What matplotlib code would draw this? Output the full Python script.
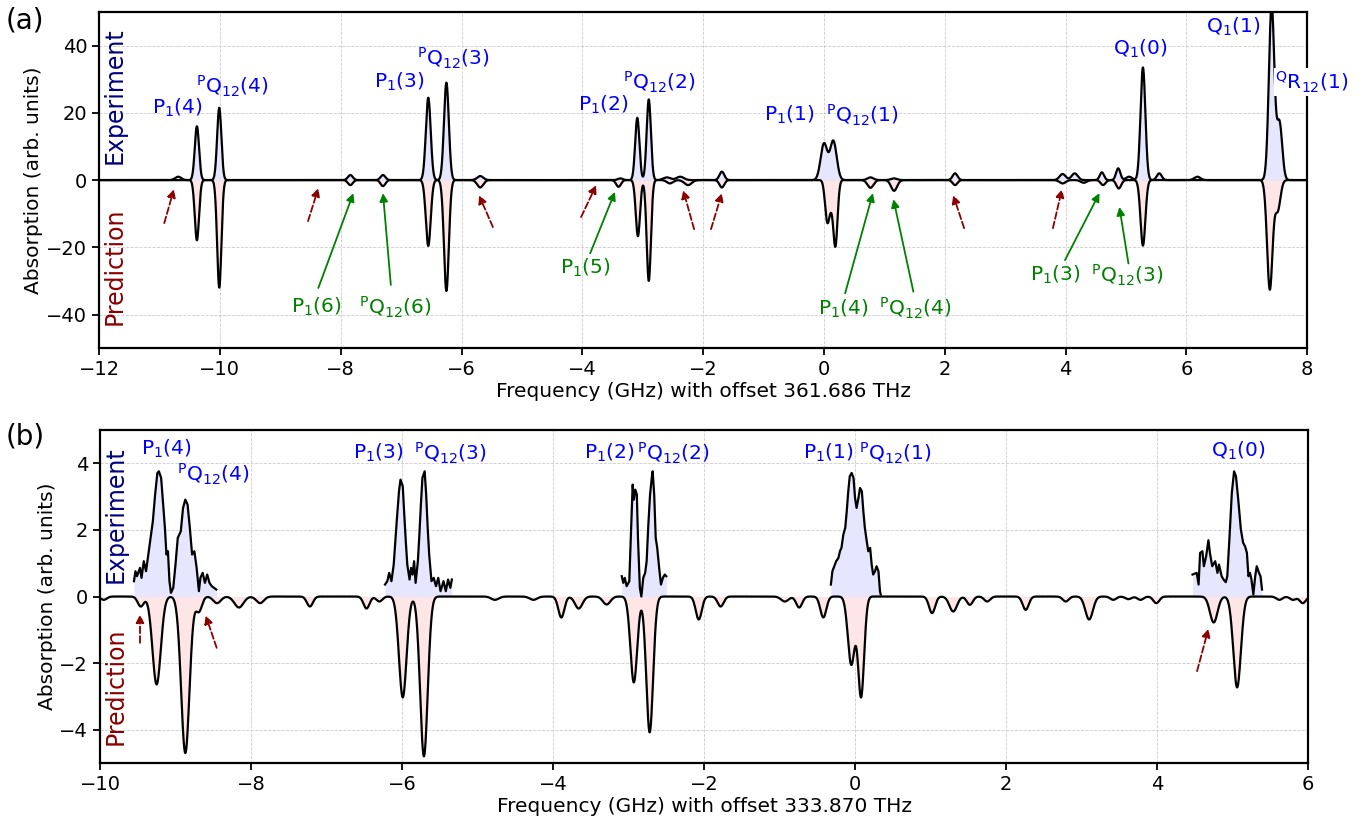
import numpy as np
import matplotlib
matplotlib.use('Agg')
import matplotlib.pyplot as plt
from matplotlib.patches import FancyArrowPatch

plt.rcParams['font.family'] = ['DejaVu Sans']
plt.rcParams['mathtext.default'] = 'regular'

# ---------------- Panel (a): line lists ----------------
exp_a_pos = [-10.69, -10.38, -10.01, -7.84, -7.30, -6.55, -6.25, -5.69, -3.37, -3.09, -2.90,
             -2.60, -2.38, -1.69, 0.00, 0.155, 0.77, 1.16, 2.17, 3.95, 4.15, 4.60, 4.87, 5.05,
             5.28, 5.55, 6.18, 7.41, 7.54]
exp_a_amp = [1.0, 16.0, 21.5, 1.5, 1.5, 24.5, 29.0, 1.2, 0.5, 18.5, 24.0,
             0.8, 1.0, 2.5, 10.8, 11.6, 0.8, 0.5, 2.0, 1.8, 2.0, 2.3, 3.5, 1.0,
             33.5, 2.0, 1.0, 52.0, 17.0]
exp_a_wid = [0.05, 0.035, 0.035, 0.04, 0.04, 0.04, 0.04, 0.05, 0.04, 0.035, 0.035,
             0.06, 0.06, 0.04, 0.055, 0.055, 0.05, 0.05, 0.04, 0.05, 0.05, 0.035, 0.035, 0.05,
             0.04, 0.04, 0.05, 0.045, 0.045]

pred_a_pos = [-10.38, -10.01, -7.84, -7.30, -6.55, -6.25, -5.69, -3.40, -3.08, -2.90,
              -2.55, -2.25, -1.69, 0.05, 0.11, 0.19, 0.77, 1.16, 2.17, 3.95, 4.30, 4.62, 4.88,
              5.28, 7.38, 7.51]
pred_a_amp = [-17.9, -32.0, -1.5, -1.8, -19.6, -33.0, -2.2, -2.0, -16.7, -30.0,
              -1.0, -1.5, -2.2, -10.5, -6.0, -19.0, -2.3, -3.2, -1.5, -1.0, -0.8, -1.5, -2.5,
              -19.5, -32.5, -9.0]
pred_a_wid = [0.035, 0.035, 0.04, 0.04, 0.04, 0.04, 0.05, 0.04, 0.035, 0.035,
              0.05, 0.06, 0.04, 0.035, 0.04, 0.035, 0.05, 0.05, 0.04, 0.05, 0.05, 0.04, 0.04,
              0.04, 0.045, 0.045]

blue_a_txt = ['P$_1$(4)', '$^P$Q$_{12}$(4)', 'P$_1$(3)', '$^P$Q$_{12}$(3)', 'P$_1$(2)',
              '$^P$Q$_{12}$(2)', 'P$_1$(1)', '$^P$Q$_{12}$(1)', 'Q$_1$(0)', 'Q$_1$(1)']
blue_a_x = [-10.71, -9.8, -7.03, -6.14, -3.66, -2.73, -0.58, 0.63, 5.23, 6.77]
blue_a_y = [21.4, 27.8, 29.2, 36.2, 22.3, 29.2, 19.3, 19.3, 39.0, 45.5]

green_a_txt = ['P$_1$(6)', '$^P$Q$_{12}$(6)', 'P$_1$(5)', 'P$_1$(4)', '$^P$Q$_{12}$(4)',
               'P$_1$(3)', '$^P$Q$_{12}$(3)']
green_a_x = [-8.4, -7.1, -3.95, 0.32, 1.51, 3.83, 5.02]
green_a_y = [-37.8, -37.8, -26.2, -38.2, -38.2, -28.3, -28.3]
green_a_tail = [(-8.37, -32.1), (-7.17, -31.2), (-3.87, -21.8), (0.35, -33.7),
                (1.48, -33.2), (3.99, -23.8), (5.04, -24.8)]
green_a_head = [(-7.79, -3.9), (-7.30, -3.9), (-3.46, -3.5), (0.81, -3.9),
                (1.15, -5.7), (4.56, -3.9), (4.89, -8.0)]

red_a_tail = [(-10.92, -12.8), (-8.54, -12.2), (-5.48, -14.0), (-4.02, -11.0),
              (-2.15, -14.6), (-1.87, -14.6), (2.32, -14.3), (3.79, -14.3)]
red_a_head = [(-10.76, -2.7), (-8.37, -2.4), (-5.71, -4.5), (-3.77, -1.5),
              (-2.33, -3.0), (-1.69, -3.9), (2.14, -4.5), (3.94, -2.7)]

# ---------------- Panel (b) ----------------
pred_b_pos = [-9.95, -9.46, -9.25, -8.87, -8.69, -8.45, -8.16, -7.88, -7.22, -6.47, -6.30,
              -5.99, -5.71, -4.77, -4.26, -3.89, -3.66, -3.29, -2.93, -2.72, -2.07, -1.78,
              -0.93, -0.74, -0.42, -0.05, 0.08, 1.02, 1.30, 1.52, 1.75, 2.26, 2.79, 3.10,
              3.42, 3.62, 3.78, 3.99, 4.75, 5.06, 5.62, 5.80, 5.93]
pred_b_amp = [-0.1, -0.3, -2.64, -4.7, -0.45, -0.2, -0.33, -0.2, -0.3, -0.36, -0.15,
              -3.03, -4.8, -0.1, -0.1, -0.63, -0.36, -0.24, -2.58, -4.08, -0.69, -0.3,
              -0.15, -0.33, -0.63, -2.04, -3.0, -0.5, -0.45, -0.25, -0.15, -0.4, -0.15, -0.69,
              -0.1, -0.08, -0.1, -0.2, -0.78, -2.73, -0.1, -0.1, -0.2]
pred_b_wid = [0.04, 0.04, 0.055, 0.055, 0.04, 0.05, 0.06, 0.05, 0.04, 0.04, 0.04,
              0.05, 0.05, 0.05, 0.05, 0.04, 0.05, 0.05, 0.045, 0.045, 0.04, 0.04,
              0.05, 0.04, 0.04, 0.045, 0.04, 0.04, 0.05, 0.04, 0.04, 0.04, 0.04, 0.05,
              0.04, 0.04, 0.04, 0.04, 0.05, 0.05, 0.04, 0.04, 0.04]

exp_b_x1 = [-9.55, -9.53, -9.51, -9.47, -9.45, -9.42, -9.39, -9.36, -9.33, -9.30, -9.27, -9.24,
            -9.22, -9.19, -9.17, -9.14, -9.12, -9.10, -9.08, -9.06, -9.03, -9.00, -8.97, -8.93,
            -8.90, -8.87, -8.84, -8.81, -8.78, -8.75, -8.72, -8.69, -8.67, -8.64, -8.61, -8.58,
            -8.55, -8.52, -8.49, -8.46]
exp_b_y1 = [0.46, 0.76, 0.61, 0.86, 0.56, 1.06, 0.76, 1.26, 1.76, 2.26, 3.06, 3.71,
            3.76, 3.56, 2.96, 2.06, 1.26, 1.36, 0.46, 0.11, 0.26, 0.96, 1.76, 1.96,
            2.66, 2.91, 2.76, 2.06, 1.26, 1.36, 0.86, 0.16, 0.56, 0.71, 0.41, 0.66,
            0.41, 0.31, 0.26, 0.21]
exp_b_x2 = [-6.225, -6.195, -6.17, -6.14, -6.11, -6.07, -6.04, -6.02, -5.99, -5.97, -5.95,
            -5.93, -5.90, -5.88, -5.86, -5.84, -5.82, -5.79, -5.77, -5.75, -5.73, -5.70,
            -5.68, -5.66, -5.64, -5.61, -5.58, -5.55, -5.52, -5.49, -5.45, -5.42, -5.39,
            -5.36, -5.34]
exp_b_y2 = [0.36, 0.46, 0.71, 0.46, 0.96, 2.26, 3.16, 3.51, 3.31, 2.46, 1.66,
            0.96, 0.51, 0.86, 0.66, 1.06, 0.41, 1.06, 1.86, 2.76, 3.56, 3.76,
            3.06, 2.06, 1.26, 0.46, 0.56, 0.31, 0.56, 0.16, 0.46, 0.16, 0.51,
            0.26, 0.51]
exp_b_x3 = [-3.09, -3.07, -3.05, -3.025, -2.99, -2.97, -2.945, -2.93, -2.91, -2.89, -2.875,
            -2.85, -2.83, -2.805, -2.78, -2.76, -2.74, -2.715, -2.69, -2.68, -2.66, -2.64,
            -2.62, -2.59, -2.57, -2.545, -2.52, -2.50]
exp_b_y3 = [0.61, 0.41, 0.56, 0.31, 0.46, 1.76, 3.36, 2.91, 3.21, 3.06, 1.76,
            0.26, 0.0, 0.56, 0.71, 1.06, 2.06, 3.06, 3.61, 3.76, 3.06, 1.76,
            1.46, 0.76, 0.36, 0.56, 0.66, 0.61]
exp_b_x4 = [-0.32, -0.30, -0.275, -0.25, -0.22, -0.20, -0.18, -0.155, -0.13, -0.11, -0.09,
            -0.07, -0.045, -0.02, 0.0, 0.02, 0.045, 0.066, 0.09, 0.11, 0.13, 0.155, 0.175,
            0.20, 0.22, 0.24, 0.265, 0.285, 0.31, 0.33, 0.34]
exp_b_y4 = [0.36, 0.76, 0.91, 1.06, 1.16, 1.36, 1.46, 1.86, 2.06, 2.56, 3.16,
            3.61, 3.71, 3.56, 2.96, 2.66, 2.96, 3.26, 3.16, 2.56, 2.06, 1.66, 1.36,
            1.46, 0.96, 0.66, 0.76, 0.91, 0.76, 0.16, 0.06]
exp_b_x5 = [4.47, 4.525, 4.55, 4.57, 4.60, 4.62, 4.65, 4.68, 4.70, 4.73, 4.77, 4.80, 4.82,
            4.855, 4.88, 4.91, 4.93, 4.96, 4.99, 5.02, 5.045, 5.075, 5.11, 5.14, 5.165,
            5.19, 5.21, 5.23, 5.25, 5.275, 5.30, 5.32, 5.35, 5.37, 5.39]
exp_b_y5 = [0.66, 0.71, 0.36, 1.31, 1.36, 0.91, 1.21, 1.69, 1.31, 0.91, 1.06, 0.71, 0.96,
            0.61, 0.51, 0.43, 0.61, 1.81, 3.11, 3.76, 3.61, 2.91, 2.01, 1.61, 1.51,
            1.31, 0.61, 0.71, 0.51, 0.06, 0.61, 0.91, 0.71, 0.61, 0.21]

blue_b_txt = ['P$_1$(4)', '$^P$Q$_{12}$(4)', 'P$_1$(3)', '$^P$Q$_{12}$(3)', 'P$_1$(2)',
              '$^P$Q$_{12}$(2)', 'P$_1$(1)', '$^P$Q$_{12}$(1)', 'Q$_1$(0)']
blue_b_x = [-9.12, -8.5, -6.31, -5.36, -3.25, -2.41, -0.35, 0.53, 5.08]
blue_b_y = [4.43, 3.66, 4.31, 4.31, 4.31, 4.31, 4.31, 4.31, 4.36]

red_b_tail = [(-9.47, -1.39), (-8.455, -1.54), (4.53, -2.24)]
red_b_head = [(-9.47, -0.54), (-8.60, -0.57), (4.68, -0.97)]


def spectrum(x, pos, amp, wid):
    y = np.zeros_like(x)
    for p, a, w in zip(pos, amp, wid):
        y += a * np.exp(-0.5 * ((x - p) / w) ** 2)
    return y


EXP_FILL = (0.90, 0.90, 1.0)
PRED_FILL = (1.0, 0.90, 0.90)
LBL_FS = 14.5
TICK_FS = 14
AX_FS = 14.5


def style_axes(ax):
    ax.grid(True, ls='--', lw=0.6, color='#cccccc')
    ax.set_axisbelow(True)
    for s in ax.spines.values():
        s.set_linewidth(1.6)
    ax.tick_params(labelsize=TICK_FS, width=1.3, length=5)


def arrow(ax, tail, head, color, ls):
    ax.add_patch(FancyArrowPatch(tail, head, arrowstyle='-|>', mutation_scale=12,
                                 color=color, lw=1.3, ls=ls, shrinkA=0, shrinkB=0, zorder=6))


fig = plt.figure(figsize=(13.66, 8.23), dpi=100)
axa = fig.add_axes([0.0725, 0.577, 0.8845, 0.4084])
axb = fig.add_axes([0.0732, 0.0729, 0.8844, 0.4046])

# ---- panel a ----
xa = np.linspace(-12, 8, 6001)
ea = spectrum(xa, exp_a_pos, exp_a_amp, exp_a_wid)
pa = spectrum(xa, pred_a_pos, pred_a_amp, pred_a_wid)
axa.fill_between(xa, ea, 0, color=EXP_FILL, lw=0, zorder=1)
axa.fill_between(xa, pa, 0, color=PRED_FILL, lw=0, zorder=1)
axa.plot(xa, pa, color='black', lw=1.6, zorder=3)
axa.plot(xa, ea, color='black', lw=1.6, zorder=3)
axa.set_xlim(-12, 8)
axa.set_ylim(-50, 50)
axa.set_xticks(np.arange(-12, 9, 2))
axa.set_yticks([-40, -20, 0, 20, 40])
style_axes(axa)
axa.set_xlabel('Frequency (GHz) with offset 361.686 THz', fontsize=AX_FS, labelpad=2)
axa.set_ylabel('Absorption (arb. units)', fontsize=AX_FS, labelpad=2)

for t, x, y in zip(blue_a_txt, blue_a_x, blue_a_y):
    axa.text(x, y, t, color='blue', fontsize=LBL_FS, ha='center', va='center', zorder=7)
axa.text(8.08, 29.2, '$^Q$R$_{12}$(1)', color='blue', fontsize=LBL_FS, ha='center',
         va='center', zorder=7, clip_on=False,
         bbox=dict(facecolor='white', edgecolor='none', pad=1))
for t, x, y in zip(green_a_txt, green_a_x, green_a_y):
    axa.text(x, y, t, color='green', fontsize=LBL_FS, ha='center', va='center', zorder=7)
for tl, hd in zip(green_a_tail, green_a_head):
    arrow(axa, tl, hd, 'green', '-')
for tl, hd in zip(red_a_tail, red_a_head):
    arrow(axa, tl, hd, 'darkred', '--')
axa.text(0.013, 0.75, 'Experiment', transform=axa.transAxes, rotation=90, color='navy',
         fontsize=17, ha='center', va='center')
axa.text(0.013, 0.245, 'Prediction', transform=axa.transAxes, rotation=90, color='darkred',
         fontsize=17, ha='center', va='center')

# ---- panel b ----
xb = np.linspace(-10, 6, 6001)
pb = spectrum(xb, pred_b_pos, pred_b_amp, pred_b_wid)
axb.fill_between(xb, pb, 0, color=PRED_FILL, lw=0, zorder=1)
for xs, ys in [(exp_b_x1, exp_b_y1), (exp_b_x2, exp_b_y2), (exp_b_x3, exp_b_y3),
               (exp_b_x4, exp_b_y4), (exp_b_x5, exp_b_y5)]:
    axb.fill_between(xs, ys, 0, color=EXP_FILL, lw=0, zorder=1)
    axb.plot(xs, ys, color='black', lw=1.6, zorder=3)
axb.plot(xb, pb, color='black', lw=1.6, zorder=3)
axb.set_xlim(-10, 6)
axb.set_ylim(-5, 5)
axb.set_xticks(np.arange(-10, 7, 2))
axb.set_yticks([-4, -2, 0, 2, 4])
style_axes(axb)
axb.set_xlabel('Frequency (GHz) with offset 333.870 THz', fontsize=AX_FS, labelpad=2)
axb.set_ylabel('Absorption (arb. units)', fontsize=AX_FS, labelpad=2)
for t, x, y in zip(blue_b_txt, blue_b_x, blue_b_y):
    axb.text(x, y, t, color='blue', fontsize=LBL_FS, ha='center', va='center', zorder=7)
for tl, hd in zip(red_b_tail, red_b_head):
    arrow(axb, tl, hd, 'darkred', '--')
axb.text(0.013, 0.745, 'Experiment', transform=axb.transAxes, rotation=90, color='navy',
         fontsize=17, ha='center', va='center')
axb.text(0.013, 0.23, 'Prediction', transform=axb.transAxes, rotation=90, color='darkred',
         fontsize=17, ha='center', va='center')

fig.text(0.004, 0.975, '(a)', fontsize=20, ha='left', va='center')
fig.text(0.004, 0.470, '(b)', fontsize=20, ha='left', va='center')

fig.savefig('out.png', dpi=100)
